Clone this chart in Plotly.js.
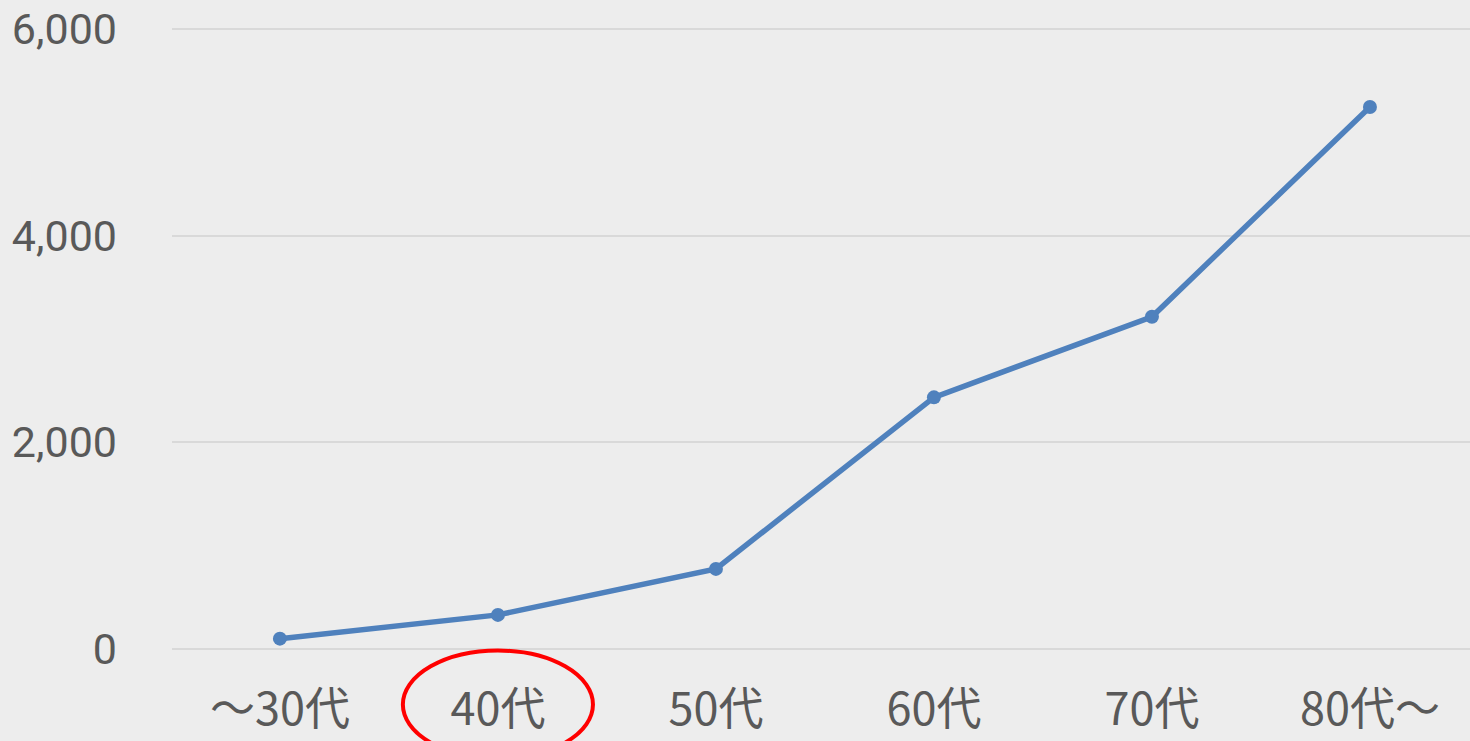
<!DOCTYPE html>
<html>
<head>
<meta charset="utf-8">
<script src="https://cdn.plot.ly/plotly-3.0.1.min.js"></script>
<style>html,body{margin:0;padding:0;background:#EDEDED;}#chart{width:1470px;height:741px;}</style>
</head>
<body>
<div id="chart"></div>
<script>
const categories = ["～30代", "40代", "50代", "60代", "70代", "80代～"];
const values = [100, 330, 775, 2435, 3215, 5245];
const yTickVals = [0, 2000, 4000, 6000];
const yTickText = ["0", "2,000", "4,000", "6,000"];
const highlightCategory = "40代";

const fontFamily = '"Noto Sans CJK JP", "Noto Sans", sans-serif';
const numFontFamily = 'Roboto, "Noto Sans CJK JP", sans-serif';
const hi = categories.indexOf(highlightCategory);

const trace = {
  x: categories.map((c, i) => i),
  y: values,
  type: 'scatter',
  mode: 'lines+markers',
  line: {color: '#4F81BD', width: 5.5},
  marker: {color: '#4F81BD', size: 14},
  hoverinfo: 'skip',
  cliponaxis: false
};

const layout = {
  width: 1470, height: 741,
  margin: {l: 172, r: 0, t: 0, b: 91.5, pad: 0},
  paper_bgcolor: '#EDEDED',
  plot_bgcolor: '#EDEDED',
  showlegend: false,
  font: {family: fontFamily, color: '#595959', size: 42},
  xaxis: {
    range: [-0.495, 5.459],
    tickvals: categories.map((c, i) => i),
    ticktext: categories,
    showgrid: false,
    zeroline: false,
    showline: false,
    ticks: '',
    ticklabelstandoff: 30,
    tickfont: {family: fontFamily, size: 45, color: '#595959'}
  },
  yaxis: {
    range: [0, 6280],
    tickvals: yTickVals,
    ticktext: yTickText,
    showgrid: true,
    gridcolor: '#D9D9D9',
    gridwidth: 2,
    zeroline: true,
    zerolinecolor: '#D9D9D9',
    zerolinewidth: 2,
    showline: false,
    ticks: '',
    ticklabelstandoff: 54,
    ticklabeloverflow: 'allow',
    tickfont: {family: numFontFamily, size: 43, color: '#595959'}
  },
  shapes: [{
    type: 'circle',
    xref: 'x', yref: 'paper',
    x0: hi - 0.436, x1: hi + 0.436,
    y0: -0.1686, y1: -0.0023,
    line: {color: '#FF0000', width: 4},
    fillcolor: 'rgba(0,0,0,0)',
    layer: 'above'
  }]
};

Plotly.newPlot('chart', [trace], layout, {displayModeBar: false, staticPlot: true});
</script>
</body>
</html>
